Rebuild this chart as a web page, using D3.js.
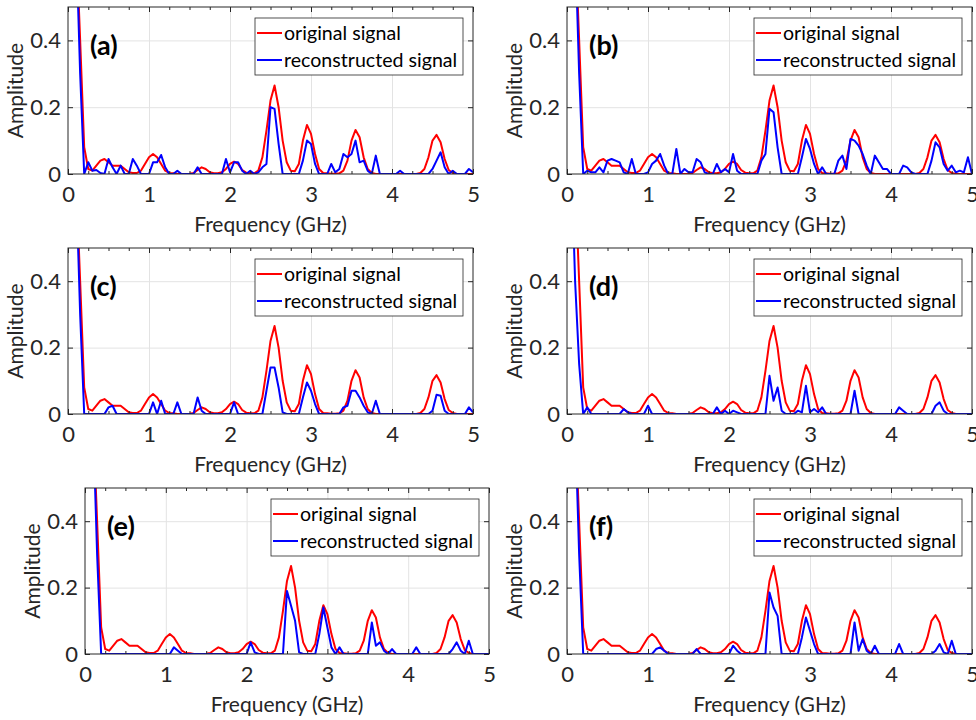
<!DOCTYPE html>
<html>
<head>
<meta charset="utf-8">
<script src="https://cdn.jsdelivr.net/npm/d3@7"></script>
<style>
  body { margin: 0; background: #fff; }
  svg text { font-family: Lato, "Open Sans", sans-serif; fill: #262626; }
</style>
</head>
<body>
<div id="chart"></div>
<script>
// frequency bins (GHz)
const freq = [
  0.00, 0.05, 0.10, 0.15, 0.20, 0.25, 0.30, 0.35, 0.40, 0.45,
  0.50, 0.55, 0.60, 0.65, 0.70, 0.75, 0.80, 0.85, 0.90, 0.95,
  1.00, 1.05, 1.10, 1.15, 1.20, 1.25, 1.30, 1.35, 1.40, 1.45,
  1.50, 1.55, 1.60, 1.65, 1.70, 1.75, 1.80, 1.85, 1.90, 1.95,
  2.00, 2.05, 2.10, 2.15, 2.20, 2.25, 2.30, 2.35, 2.40, 2.45,
  2.50, 2.55, 2.60, 2.65, 2.70, 2.75, 2.80, 2.85, 2.90, 2.95,
  3.00, 3.05, 3.10, 3.15, 3.20, 3.25, 3.30, 3.35, 3.40, 3.45,
  3.50, 3.55, 3.60, 3.65, 3.70, 3.75, 3.80, 3.85, 3.90, 3.95,
  4.00, 4.05, 4.10, 4.15, 4.20, 4.25, 4.30, 4.35, 4.40, 4.45,
  4.50, 4.55, 4.60, 4.65, 4.70, 4.75, 4.80, 4.85, 4.90, 4.95,
  5.00
];

// original signal spectrum (same in every panel)
const original = [
  1.6, 1.2, 0.71, 0.40, 0.08, 0.015, 0.01, 0.025, 0.04, 0.045,
  0.035, 0.025, 0.025, 0.025, 0.015, 0.005, 0.003, 0.003, 0.01, 0.03,
  0.05, 0.06, 0.05, 0.03, 0.01, 0.003, 0.002, 0, 0, 0,
  0.001, 0.003, 0.012, 0.02, 0.015, 0.005, 0.002, 0.002, 0.005, 0.015,
  0.03, 0.037, 0.03, 0.012, 0.004, 0.002, 0.002, 0.01, 0.05, 0.13,
  0.22, 0.265, 0.2, 0.1, 0.035, 0.01, 0.008, 0.03, 0.1, 0.147,
  0.12, 0.06, 0.015, 0.003, 0.002, 0.001, 0.001, 0.002, 0.01, 0.04,
  0.1, 0.132, 0.11, 0.05, 0.015, 0.003, 0, 0, 0, 0,
  0, 0, 0, 0, 0, 0, 0, 0.003, 0.015, 0.05,
  0.1, 0.117, 0.095, 0.045, 0.012, 0.003, 0, 0, 0, 0,
  0
];

// reconstructed spectra, one per panel
const reconA = [
  1.6, 1.2, 0.7, 0.3, 0, 0.035, 0.01, 0.012, 0.003, 0,
  0.045, 0.02, 0, 0.025, 0, 0, 0.045, 0.025, 0, 0,
  0, 0.035, 0.035, 0.057, 0.02, 0, 0, 0.01, 0, 0,
  0, 0, 0.02, 0, 0, 0, 0, 0, 0, 0.045,
  0.005, 0.035, 0.035, 0.01, 0, 0.01, 0, 0.005, 0.02, 0.03,
  0.2, 0.195, 0.09, 0, 0, 0, 0, 0, 0.04, 0.1,
  0.09, 0.03, 0, 0, 0, 0.03, 0.005, 0.015, 0.06, 0.05,
  0.06, 0.1, 0.035, 0.04, 0.01, 0, 0.055, 0, 0, 0,
  0, 0, 0.01, 0, 0, 0, 0, 0, 0, 0,
  0.015, 0.04, 0.065, 0.02, 0, 0.01, 0, 0, 0, 0.015,
  0.005
];
const reconB = [
  1.6, 1.2, 0.7, 0.3, 0, 0.01, 0.005, 0.005, 0.02, 0.005,
  0.04, 0.045, 0.04, 0.035, 0.005, 0, 0.045, 0, 0, 0,
  0.005, 0.03, 0.04, 0.06, 0.025, 0, 0, 0.075, 0, 0.015,
  0.005, 0.005, 0.045, 0.035, 0.005, 0, 0, 0.03, 0.005, 0.015,
  0.005, 0.06, 0.01, 0, 0, 0, 0, 0, 0.04, 0.06,
  0.195, 0.185, 0.08, 0, 0, 0, 0, 0, 0.05, 0.105,
  0.075, 0.03, 0, 0.02, 0, 0, 0, 0.04, 0.055, 0.015,
  0.105, 0.1, 0.085, 0.06, 0.025, 0, 0.055, 0.035, 0.015, 0.015,
  0, 0, 0, 0.025, 0.02, 0.005, 0, 0, 0, 0,
  0.04, 0.095, 0.08, 0.03, 0.01, 0.025, 0.005, 0.01, 0.005, 0.05,
  0
];
const reconC = [
  1.6, 1.2, 0.7, 0.3, 0, 0, 0, 0, 0, 0,
  0.02, 0.025, 0, 0, 0, 0, 0, 0, 0, 0,
  0, 0.035, 0, 0.04, 0, 0, 0, 0.035, 0, 0,
  0, 0, 0.05, 0.01, 0, 0, 0, 0, 0, 0,
  0, 0.035, 0, 0, 0, 0, 0, 0, 0, 0.07,
  0.14, 0.14, 0.08, 0.005, 0, 0, 0, 0, 0.05, 0.095,
  0.07, 0.03, 0, 0, 0, 0, 0, 0, 0.02, 0.025,
  0.07, 0.07, 0.05, 0.025, 0.005, 0, 0.04, 0, 0, 0,
  0, 0, 0, 0, 0, 0, 0, 0, 0, 0,
  0.01, 0.058, 0.055, 0.01, 0, 0, 0, 0, 0, 0.02,
  0.005
];
const reconD = [
  1.6, 0.8, 0.4, 0.15, 0, 0.02, 0, 0, 0, 0,
  0, 0, 0, 0, 0.015, 0.005, 0, 0, 0, 0,
  0.025, 0, 0, 0, 0, 0, 0, 0, 0, 0,
  0, 0, 0, 0, 0, 0, 0, 0.02, 0, 0.01,
  0, 0.01, 0.005, 0, 0, 0, 0, 0, 0, 0,
  0.115, 0.04, 0.08, 0.01, 0, 0, 0, 0.01, 0.005, 0.085,
  0.005, 0.015, 0.005, 0.02, 0, 0, 0, 0, 0, 0,
  0, 0.07, 0, 0, 0, 0, 0, 0, 0, 0,
  0, 0, 0.02, 0.01, 0, 0, 0, 0, 0, 0,
  0, 0.025, 0.035, 0.01, 0, 0, 0, 0, 0, 0,
  0
];
const reconE = [
  1.6, 1.2, 0.7, 0.3, 0, 0, 0, 0, 0, 0,
  0, 0, 0, 0, 0, 0, 0, 0, 0, 0,
  0, 0, 0.02, 0.01, 0, 0, 0, 0, 0, 0,
  0, 0, 0, 0, 0, 0, 0, 0, 0, 0,
  0, 0.035, 0.005, 0, 0, 0, 0, 0, 0, 0,
  0.19, 0.145, 0.1, 0.005, 0, 0, 0, 0, 0.06, 0.14,
  0.08, 0.02, 0, 0.02, 0, 0, 0, 0, 0, 0,
  0, 0.095, 0.025, 0.035, 0.01, 0, 0.015, 0, 0, 0,
  0, 0, 0.02, 0, 0, 0, 0, 0, 0, 0,
  0, 0.015, 0.035, 0.01, 0, 0.04, 0, 0, 0, 0,
  0
];
const reconF = [
  1.6, 1.2, 0.7, 0.3, 0, 0, 0, 0, 0, 0,
  0, 0, 0, 0, 0, 0, 0, 0, 0, 0,
  0, 0, 0.015, 0.02, 0.01, 0, 0, 0, 0, 0,
  0, 0, 0.015, 0, 0, 0, 0, 0, 0, 0,
  0, 0.025, 0.01, 0, 0, 0, 0, 0, 0, 0,
  0.185, 0.14, 0.115, 0, 0, 0, 0, 0, 0.05, 0.11,
  0.07, 0.03, 0, 0, 0, 0, 0, 0, 0, 0,
  0, 0.095, 0.01, 0.045, 0.01, 0, 0.025, 0, 0, 0,
  0, 0, 0.03, 0, 0, 0, 0, 0, 0, 0,
  0, 0.01, 0.03, 0.005, 0, 0.04, 0, 0, 0, 0,
  0
];

const panelLabels = ["(a)", "(b)", "(c)", "(d)", "(e)", "(f)"];
const legendLabels = ["original signal", "reconstructed signal"];
const xTicks = [0, 1, 2, 3, 4, 5];
const xMinorTicks = [0.25, 0.5, 0.75, 1.25, 1.5, 1.75, 2.25, 2.5, 2.75, 3.25, 3.5, 3.75, 4.25, 4.5, 4.75];
const yTicks = [0, 0.2, 0.4];

const colors = ["#ff0000", "#0000ff"];
const axisColor = "#262626";

// where each axes box sits on the page
const layout = [
  { left: 68,  top: 7,   w: 405, h: 167 },
  { left: 567, top: 7,   w: 405, h: 167 },
  { left: 68,  top: 248, w: 405, h: 166 },
  { left: 567, top: 248, w: 405, h: 166 },
  { left: 85,  top: 488, w: 404, h: 166 },
  { left: 567, top: 488, w: 405, h: 166 }
];
const recons = [reconA, reconB, reconC, reconD, reconE, reconF];

const svg = d3.select("#chart").append("svg")
  .attr("width", 976)
  .attr("height", 720);

layout.forEach((p, i) => {
  const g = svg.append("g").attr("transform", `translate(${p.left},${p.top})`);

  const x = d3.scaleLinear().domain([0, 5]).range([0, p.w]);
  const y = d3.scaleLinear().domain([0, 0.5]).range([p.h, 0]);

  // GRID
  g.append("g")
    .attr("transform", `translate(0,${p.h})`)
    .call(d3.axisBottom(x).tickValues(xTicks.slice(1, -1)).tickSize(-p.h).tickFormat(""))
    .call(a => a.select(".domain").remove())
    .call(a => a.selectAll("line").attr("stroke", "#e3e3e3"));
  g.append("g")
    .call(d3.axisLeft(y).tickValues(yTicks.slice(1)).tickSize(-p.w).tickFormat(""))
    .call(a => a.select(".domain").remove())
    .call(a => a.selectAll("line").attr("stroke", "#e3e3e3"));

  // LINES
  g.append("clipPath").attr("id", "clip" + i)
    .append("rect").attr("width", p.w).attr("height", p.h);

  const line = d3.line()
    .x((d, j) => x(freq[j]))
    .y(d => y(d));

  [original, recons[i]].forEach((series, k) => {
    g.append("path")
      .datum(series)
      .attr("clip-path", `url(#clip${i})`)
      .attr("fill", "none")
      .attr("stroke", colors[k])
      .attr("stroke-width", 2)
      .attr("stroke-linejoin", "round")
      .attr("d", line);
  });

  // BOX
  g.append("rect")
    .attr("width", p.w).attr("height", p.h)
    .attr("fill", "none")
    .attr("stroke", axisColor)
    .attr("stroke-width", 1);

  // TICKS (inward, all four sides)
  const styleAxis = a => {
    a.select(".domain").remove();
    a.selectAll("line").attr("stroke", axisColor);
  };
  g.append("g")
    .attr("transform", `translate(0,${p.h})`)
    .call(d3.axisBottom(x).tickValues(xTicks).tickSizeInner(-5).tickSizeOuter(0).tickPadding(12)
      .tickFormat(d3.format("d")))
    .call(styleAxis)
    .call(a => a.selectAll("text").attr("font-size", 22).attr("fill", axisColor).style("font-family", "Lato"));
  g.append("g")
    .attr("transform", `translate(0,${p.h})`)
    .call(d3.axisBottom(x).tickValues(xMinorTicks).tickSize(-3).tickFormat(""))
    .call(styleAxis);
  g.append("g")
    .call(d3.axisTop(x).tickValues(xTicks).tickSize(-5).tickFormat(""))
    .call(styleAxis);
  g.append("g")
    .call(d3.axisTop(x).tickValues(xMinorTicks).tickSize(-3).tickFormat(""))
    .call(styleAxis);
  g.append("g")
    .call(d3.axisLeft(y).tickValues(yTicks).tickSizeInner(-5).tickSizeOuter(0).tickPadding(7)
      .tickFormat(d => d === 0 ? "0" : d3.format(".1f")(d)))
    .call(styleAxis)
    .call(a => a.selectAll("text").attr("font-size", 22).attr("fill", axisColor).style("font-family", "Lato"));
  g.append("g")
    .attr("transform", `translate(${p.w},0)`)
    .call(d3.axisRight(y).tickValues(yTicks).tickSize(-5).tickFormat(""))
    .call(styleAxis);

  // AXIS TITLES
  g.append("text")
    .attr("x", p.w / 2)
    .attr("y", p.h + 58)
    .attr("text-anchor", "middle")
    .attr("font-size", 21)
    .text("Frequency (GHz)");
  g.append("text")
    .attr("transform", `translate(-45,${p.h / 2}) rotate(-90)`)
    .attr("text-anchor", "middle")
    .attr("font-size", 21)
    .text("Amplitude");

  // PANEL LABEL
  g.append("text")
    .attr("x", 22)
    .attr("y", 48)
    .attr("font-size", 27)
    .attr("font-weight", "bold")
    .style("fill", "#000")
    .text(panelLabels[i]);

  // LEGEND
  const lg = g.append("g").attr("transform", `translate(${p.w - 218},11)`);
  lg.append("rect")
    .attr("width", 208).attr("height", 57)
    .attr("fill", "#fff")
    .attr("stroke", axisColor)
    .attr("stroke-width", 0.8);
  legendLabels.forEach((lab, k) => {
    lg.append("line")
      .attr("x1", 2).attr("x2", 27)
      .attr("y1", 15 + k * 27).attr("y2", 15 + k * 27)
      .attr("stroke", colors[k])
      .attr("stroke-width", 2);
    lg.append("text")
      .attr("x", 29)
      .attr("y", 22 + k * 27)
      .attr("font-size", 19.6)
      .style("fill", "#000")
      .text(lab);
  });
});
</script>
</body>
</html>
